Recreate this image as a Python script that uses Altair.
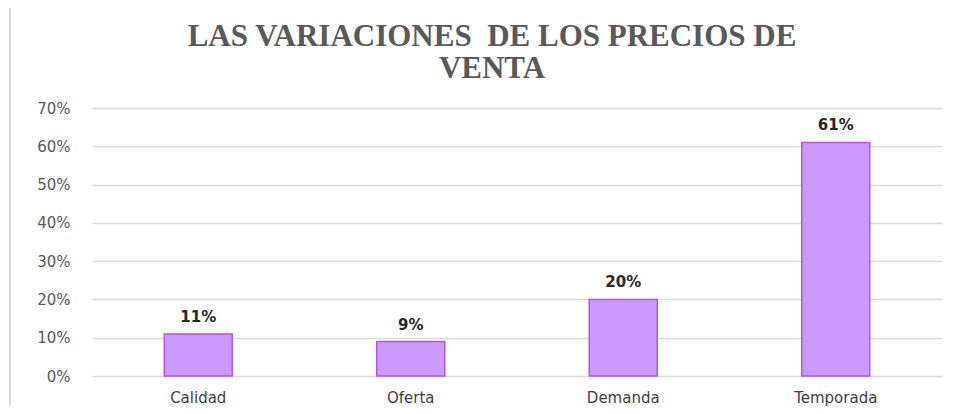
import altair as alt
import pandas as pd

categories = ["Calidad", "Oferta", "Demanda", "Temporada"]
values = [0.11, 0.09, 0.20, 0.61]
labels = ["11%", "9%", "20%", "61%"]
ticks = [0, 0.1, 0.2, 0.3, 0.4, 0.5, 0.6, 0.7]

df = pd.DataFrame({"cat": categories, "val": values, "lab": labels})

x_enc = alt.X("cat:N", sort=categories, title=None,
              scale=alt.Scale(paddingInner=0.68, paddingOuter=0.34),
              axis=alt.Axis(labelAngle=0, labelFont="DejaVu Sans", labelFontSize=15,
                            labelColor="#404040", labelPadding=14, ticks=False, domain=False))
y_enc = alt.Y("val:Q", title=None,
              scale=alt.Scale(domain=[0, 0.7]),
              axis=alt.Axis(format=".0%", values=ticks, labelOverlap=False,
                            labelFont="DejaVu Sans", labelFontSize=15, labelColor="#595959",
                            labelPadding=22, ticks=False, domain=False,
                            gridColor="#d9d9d9", gridWidth=1.5))

bars = alt.Chart(df).mark_bar(color="#CC99FF", stroke="#B452EE", strokeWidth=1.5).encode(
    x=x_enc, y=y_enc)

text = alt.Chart(df).mark_text(font="DejaVu Sans", fontSize=15, fontWeight="bold",
                               color="#262626", baseline="bottom", dy=-9).encode(
    x=x_enc, y=y_enc, text="lab:N")

border = alt.Chart(df).mark_rule(color="#d9d9d9", strokeWidth=2).encode(
    x=alt.value(-82), y=alt.value(-110), y2=alt.value(310))

chart = alt.layer(border, bars, text).properties(
    width=850, height=268,
    autosize=alt.AutoSizeParams(type="none"),
    padding={"left": 84, "top": 100, "right": 16, "bottom": 30},
    title=alt.TitleParams(
        text=["LAS VARIACIONES\u00a0 DE LOS PRECIOS DE", "VENTA"],
        font="Liberation Serif", fontSize=31, fontWeight="bold", color="#595959",
        anchor="middle", dx=-25, offset=-88, lineHeight=32),
).configure_view(stroke=None)

chart.save("out.html", embed_options={"renderer": "svg", "actions": False})
